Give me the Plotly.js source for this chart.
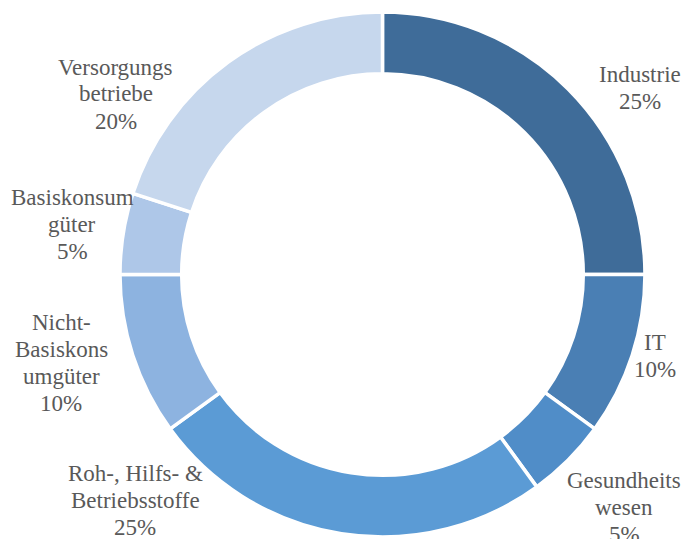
<!DOCTYPE html>
<html><head><meta charset="utf-8">
<script src="https://cdn.plot.ly/plotly-3.0.1.min.js"></script>
<style>html,body{margin:0;padding:0;background:#fff}</style>
</head><body>
<div id="chart" style="width:686px;height:539px"></div>
<script>
const categories = ["Industrie","IT","Gesundheitswesen","Roh-, Hilfs- & Betriebsstoffe","Nicht-Basiskonsumgüter","Basiskonsumgüter","Versorgungsbetriebe"];
const labelLines = [["Industrie"],["IT"],["Gesundheits","wesen"],["Roh-, Hilfs- &","Betriebsstoffe"],["Nicht-","Basiskons","umgüter"],["Basiskonsum","güter"],["Versorgungs","betriebe"]];
const values = [25,10,5,25,10,5,20];
const colors = ["#3f6c99","#4a7fb4","#508dc8","#5b9bd5","#8db3e0","#aec7e8","#c6d7ed"];
// label block centres in pixels (layout only)
const labelPosPx = [[640,88],[655,356],[624,507],[135,500],[61,363],[72,224],[116,94]];
const LINE_GAP = 27;

const W=686,H=539;
const FONT="Liberation Serif";
const total = values.reduce((a,b)=>a+b,0);
const annotations = [];
labelLines.forEach((lines,i)=>{
  const all = lines.concat([Math.round(values[i]/total*100)+"%"]);
  const n = all.length;
  all.forEach((t,j)=>{
    const py = labelPosPx[i][1] + (j-(n-1)/2)*LINE_GAP;
    annotations.push({
      xref:"paper",yref:"paper",
      x:labelPosPx[i][0]/W, y:1-py/H,
      xanchor:"center",yanchor:"middle",
      text:t,showarrow:false,align:"center",
      font:{family:FONT,size:23,color:"#595959"}
    });
  });
});

Plotly.newPlot("chart",[{
  type:"pie",
  labels:categories,
  values:values,
  hole:0.765,
  sort:false,
  direction:"clockwise",
  rotation:0,
  marker:{colors:colors,line:{color:"#ffffff",width:3.5}},
  textinfo:"none",
  domain:{x:[0.1749,0.9402],y:[0.0037,0.9777]},
  hoverinfo:"none"
}],{
  width:W,height:H,
  margin:{l:0,r:0,t:0,b:0},
  showlegend:false,
  paper_bgcolor:"#ffffff",
  annotations:annotations,
  font:{family:FONT,size:23,color:"#595959"}
},{displayModeBar:false,staticPlot:true});
</script>
</body></html>
